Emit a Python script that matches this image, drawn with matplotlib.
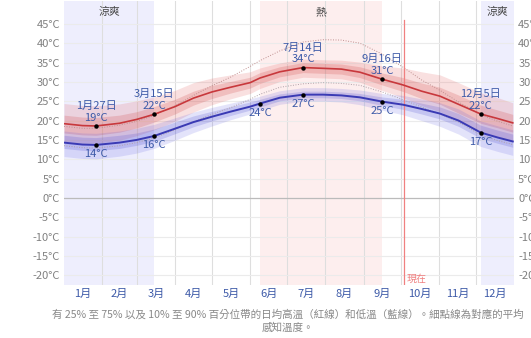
import matplotlib
matplotlib.use("Agg")
import matplotlib.pyplot as plt

plt.rcParams['font.family'] = ['Noto Sans CJK TC', 'DejaVu Sans']

# --- DATA ---
days = [0, 15, 26, 45, 59, 73, 90, 105, 120, 135, 151, 159, 175, 194,
        210, 225, 240, 258, 275, 290, 305, 320, 338, 352, 364]

high = [19.2, 18.7, 18.6, 19.3, 20.3, 21.6, 23.6, 25.8, 27.4, 28.6, 29.8, 31.0, 32.6,
        33.7, 33.5, 33.3, 32.5, 30.7, 29.2, 27.6, 26.3, 24.2, 21.7, 20.5, 19.4]
high_p90 = [24.4, 23.9, 23.8, 24.3, 25.1, 26.1, 27.8, 29.8, 31.0, 31.8, 32.6, 33.6, 34.9,
            35.9, 35.7, 35.6, 35.1, 34.1, 33.6, 32.6, 31.8, 29.8, 27.2, 25.9, 24.6]
high_p75 = [21.4, 20.9, 20.8, 21.4, 22.3, 23.6, 25.5, 27.6, 29.1, 30.1, 31.2, 32.4, 33.9,
            35.0, 34.8, 34.6, 33.9, 32.3, 31.1, 29.7, 28.6, 26.6, 24.0, 22.7, 21.6]
high_p25 = [16.8, 16.3, 16.2, 17.0, 18.1, 19.6, 21.7, 24.0, 25.7, 27.1, 28.4, 29.6, 31.3,
            32.4, 32.2, 32.0, 31.1, 29.2, 27.5, 25.7, 24.2, 21.9, 19.3, 18.1, 17.0]
high_p10 = [14.6, 14.1, 14.1, 14.9, 16.1, 17.6, 19.8, 22.2, 24.1, 25.6, 27.0, 28.3, 30.1,
            31.2, 31.0, 30.8, 29.9, 27.8, 25.9, 23.9, 22.3, 19.9, 17.2, 15.9, 14.8]

low = [14.3, 13.8, 13.7, 14.3, 15.0, 16.0, 17.9, 19.6, 21.0, 22.3, 23.6, 24.4, 25.9,
       26.7, 26.7, 26.5, 26.0, 24.9, 24.1, 23.0, 21.8, 20.0, 16.9, 15.6, 14.6]
low_p90 = [17.3, 16.8, 16.7, 17.3, 18.0, 19.0, 20.7, 22.2, 23.4, 24.5, 25.6, 26.3, 27.7,
           28.5, 28.5, 28.3, 27.9, 27.0, 26.5, 25.6, 24.6, 23.0, 19.9, 18.6, 17.6]
low_p75 = [16.2, 15.7, 15.6, 16.2, 16.8, 17.8, 19.6, 21.2, 22.4, 23.6, 24.8, 25.5, 26.9,
           27.6, 27.6, 27.4, 27.0, 26.1, 25.5, 24.5, 23.5, 21.8, 18.8, 17.5, 16.5]
low_p25 = [12.8, 12.3, 12.2, 12.8, 13.6, 14.6, 16.6, 18.4, 19.9, 21.3, 22.7, 23.5, 25.1,
           25.9, 25.9, 25.7, 25.1, 23.9, 22.9, 21.7, 20.4, 18.5, 15.4, 14.1, 13.1]
low_p10 = [10.7, 10.2, 10.1, 10.8, 11.6, 12.8, 14.9, 16.9, 18.6, 20.2, 21.7, 22.6, 24.2,
           25.0, 25.0, 24.8, 24.1, 22.7, 21.5, 20.0, 18.5, 16.5, 13.3, 12.0, 11.0]

# average perceived temperatures (dotted)
feels_high = [18.5, 18.0, 18.0, 18.8, 19.8, 21.3, 23.8, 26.5, 29.0, 31.2, 34.0, 35.5, 38.0,
              40.3, 40.9, 40.8, 40.0, 37.2, 33.8, 30.5, 27.8, 24.8, 21.5, 19.8, 18.6]
feels_low = [13.5, 13.0, 12.9, 13.5, 14.3, 15.5, 17.6, 19.7, 21.6, 23.3, 25.5, 26.8, 28.6,
             29.5, 29.8, 29.6, 29.1, 27.4, 25.4, 23.5, 21.7, 19.6, 16.3, 14.8, 13.8]

month_starts = [0, 31, 59, 90, 120, 151, 181, 212, 243, 273, 304, 334, 365]
month_labels = ['1月', '2月', '3月', '4月', '5月', '6月', '7月', '8月', '9月', '10月', '11月', '12月']

cool_seasons = [(0, 73), (338, 365)]
hot_season = (159, 258)
today = 276

# marked points: index into days, with the date text for the highs
high_marks = [(2, '1月27日'), (5, '3月15日'), (13, '7月14日'), (17, '9月16日'), (22, '12月5日')]
low_marks = [2, 5, 11, 13, 17, 22]

# --- PLOT ---
fig = plt.figure(figsize=(5.31, 3.38), dpi=100)
ax = fig.add_axes([64 / 531, 53 / 338, 450 / 531, 284 / 338])

ax.set_xlim(0, 365)
ax.set_ylim(-22.5, 50.9)

for a, b in cool_seasons:
    ax.axvspan(a, b, color='#eeeefd', zorder=0, lw=0)
    ax.text((a + b) / 2, 48.0, '涼爽', ha='center', va='center', fontsize=7.8, color='#444444')
ax.axvspan(*hot_season, color='#fdeeee', zorder=0, lw=0)
ax.text(sum(hot_season) / 2, 48.0, '熱', ha='center', va='center', fontsize=7.8, color='#444444')

# grid
for d in month_starts[1:-1]:
    ax.axvline(d, color='#dedede', lw=0.8, zorder=1)
for t in range(-20, 50, 5):
    ax.axhline(t, color='#bbbbbb' if t == 0 else '#ebebeb', lw=0.9 if t == 0 else 0.8, zorder=1)

# percentile bands
ax.fill_between(days, high_p10, high_p90, color='#e04848', alpha=0.17, lw=0, zorder=2)
ax.fill_between(days, high_p25, high_p75, color='#d04848', alpha=0.22, lw=0, zorder=2)
ax.fill_between(days, low_p10, low_p90, color='#4848e0', alpha=0.15, lw=0, zorder=2)
ax.fill_between(days, low_p25, low_p75, color='#4848d0', alpha=0.2, lw=0, zorder=2)

ax.plot(days, feels_high, color='#c09090', lw=0.7, ls=(0, (1, 1.6)), zorder=3)
ax.plot(days, feels_low, color='#b0a0a8', lw=0.7, ls=(0, (1, 1.6)), zorder=3)

ax.plot(days, high, color='#c8383c', lw=1.2, zorder=4)
ax.plot(days, low, color='#3a3ab4', lw=1.4, zorder=4)

# today
ax.plot([today, today], [-22.5, 46], color='#f08080', lw=0.9, zorder=3)
ax.text(today + 2, -20.8, '現在', fontsize=7.2, color='#f08080', ha='left', va='center')

label_color = '#3d5aa8'
for i, name in high_marks:
    ax.plot(days[i], high[i], 'o', color='black', ms=2.2, zorder=5)
    ax.annotate(f'{name}\n{high[i]:.0f}°C', (days[i], high[i]), xytext=(0, 2.5),
                textcoords='offset points', ha='center', va='bottom', fontsize=8,
                color=label_color, linespacing=1.2, zorder=6)
for i in low_marks:
    ax.plot(days[i], low[i], 'o', color='black', ms=2.2, zorder=5)
    ax.annotate(f'{low[i]:.0f}°C', (days[i], low[i]), xytext=(0, -3),
                textcoords='offset points', ha='center', va='top', fontsize=8,
                color=label_color, zorder=6)

# axes decoration
ax.set_yticks(range(-20, 50, 5))
ax.set_yticklabels([f'{t}°C' for t in range(-20, 50, 5)])
ax.tick_params(axis='y', length=0, labelsize=8, labelcolor='#808080', pad=3,
               labelleft=True, labelright=True)
mids = [(month_starts[k] + month_starts[k + 1]) / 2 for k in range(12)]
ax.set_xticks(mids)
ax.set_xticklabels(month_labels)
ax.tick_params(axis='x', length=0, labelsize=8, labelcolor='#3d5aa8', pad=3)
for s in ax.spines.values():
    s.set_visible(False)

fig.text(52 / 531, 1 - 314 / 338,
         '有 25% 至 75% 以及 10% 至 90% 百分位帶的日均高溫（紅線）和低溫（藍線）。細點線為對應的平均',
         fontsize=7.6, color='#888888', style='italic', ha='left', va='center')
fig.text(288 / 531, 1 - 328 / 338, '感知溫度。', fontsize=7.6, color='#888888',
         style='italic', ha='center', va='center')

fig.savefig('out.png', dpi=100)
